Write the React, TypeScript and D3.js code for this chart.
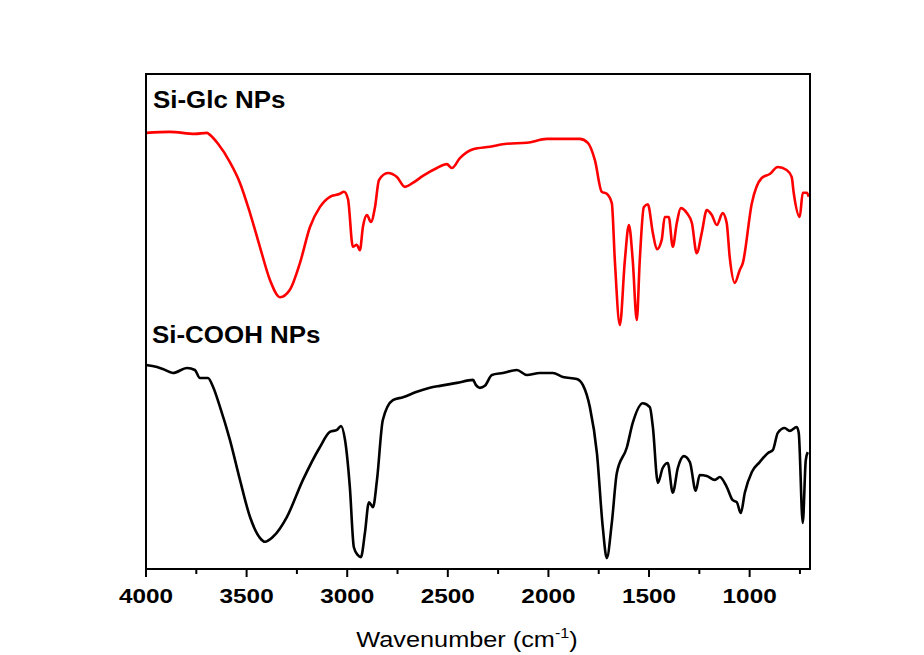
import React from "react";
import * as d3 from "d3";

// Si-Glc NPs (red) : [wavenumber, transmittance (a.u., offset)]
const siGlcWavenumber = [
  4000, 3881, 3757, 3697, 3682, 3642, 3583, 3533, 3483, 3434, 3384, 3334, 3285, 3235, 3185, 3136, 3086, 3036, 3016, 2996,
  2972, 2952, 2937, 2922, 2902, 2882, 2862, 2842, 2798, 2753, 2713, 2674, 2624, 2554, 2505, 2480, 2440, 2375, 2291, 2207,
  2107, 2008, 1908, 1844, 1804, 1769, 1735, 1710, 1685, 1670, 1645, 1620, 1600, 1581, 1561, 1546, 1526, 1506, 1481, 1461,
  1437, 1422, 1402, 1382, 1362, 1342, 1312, 1287, 1263, 1238, 1213, 1188, 1163, 1134, 1114, 1099, 1074, 1049, 1034, 989,
  940, 900, 860, 816, 791, 781, 751, 736, 716, 706,
];
const siGlcValue = [
  88.1, 88.3, 87.9, 88.1, 87.7, 85.9, 82.2, 78.0, 71.9, 65.1, 58.4, 54.9, 56.4, 61.8, 69.1, 73.1, 75.2, 75.8, 76.2, 74.7,
  65.1, 65.5, 64.4, 69.1, 71.5, 70.1, 73.1, 78.6, 80.0, 79.2, 77.2, 78.0, 79.4, 81.0, 81.8, 81.0, 83.0, 84.8, 85.3, 85.9,
  86.1, 86.9, 86.9, 86.9, 86.1, 82.6, 76.2, 75.8, 73.9, 62.4, 49.3, 62.4, 69.5, 62.4, 50.3, 62.4, 73.1, 73.7, 67.9, 64.6,
  66.5, 71.1, 71.1, 65.1, 69.9, 72.9, 71.9, 69.9, 63.8, 67.9, 72.5, 71.5, 69.5, 71.9, 69.9, 63.0, 57.8, 60.4, 61.8, 73.9,
  79.0, 79.8, 81.2, 80.6, 79.2, 76.0, 71.1, 76.0, 76.0, 75.2,
];

// Si-COOH NPs (black)
const siCoohWavenumber = [
  4000, 3945, 3916, 3866, 3796, 3757, 3732, 3692, 3667, 3632, 3583, 3533, 3483, 3434, 3409, 3369, 3300, 3220, 3136, 3086,
  3051, 3031, 3011, 2987, 2967, 2947, 2932, 2912, 2892, 2872, 2852, 2823, 2773, 2723, 2654, 2589, 2539, 2455, 2375, 2361,
  2341, 2316, 2281, 2226, 2157, 2107, 2043, 1978, 1928, 1859, 1829, 1794, 1759, 1730, 1710, 1685, 1660, 1610, 1581, 1531,
  1496, 1481, 1456, 1432, 1407, 1382, 1357, 1327, 1297, 1268, 1248, 1213, 1173, 1148, 1114, 1084, 1064, 1044, 1024, 989,
  950, 910, 885, 860, 826, 801, 766, 756, 736, 721, 711,
];
const siCoohValue = [
  41.2, 40.8, 40.4, 39.6, 40.6, 40.2, 38.6, 38.6, 36.8, 32.7, 26.1, 18.0, 10.5, 6.3, 5.5, 6.5, 10.5, 18.0, 24.6, 27.7,
  28.1, 28.9, 26.1, 16.6, 4.4, 2.8, 2.4, 7.3, 13.5, 12.5, 18.0, 30.1, 34.1, 34.7, 35.8, 36.6, 37.0, 37.6, 38.2, 37.2,
  36.6, 37.0, 39.2, 39.6, 40.2, 39.2, 39.6, 39.6, 38.8, 38.4, 37.2, 32.7, 23.4, 8.5, 2.2, 9.3, 19.4, 24.6, 29.5, 33.5,
  32.7, 28.7, 17.4, 20.4, 21.4, 15.4, 20.4, 22.8, 21.6, 15.8, 19.0, 18.8, 18.0, 18.6, 16.6, 13.9, 13.5, 11.3, 15.4, 19.6,
  21.6, 23.4, 24.0, 27.5, 28.5, 27.9, 28.7, 27.5, 9.3, 22.0, 23.6,
];

const majorTicks = [4000, 3500, 3000, 2500, 2000, 1500, 1000];
const minorTicks = [3750, 3250, 2750, 2250, 1750, 1250, 750];
const seriesLabels = ["Si-Glc NPs", "Si-COOH NPs"];
const xTitle = "Wavenumber (cm";
const xTitleSup = "-1";

const W = 924;
const H = 655;
const M = { left: 146, right: 810, top: 74, bottom: 569 };
const FONT = "'Liberation Sans', Arial, Helvetica, sans-serif";

export default function App() {
  const x = d3.scaleLinear().domain([4000, 700]).range([M.left, M.right]);
  const y = d3.scaleLinear().domain([0, 100]).range([M.bottom, M.top]);
  const line = d3
    .line<[number, number]>()
    .x((d) => x(d[0]))
    .y((d) => y(d[1]))
    .curve(d3.curveMonotoneX);

  const red = siGlcWavenumber.map((w, i) => [w, siGlcValue[i]] as [number, number]);
  const black = siCoohWavenumber.map((w, i) => [w, siCoohValue[i]] as [number, number]);

  return (
    <svg
      width={W}
      height={H}
      style={{ position: "absolute", left: 0, top: 0, background: "#fff" }}
      fontFamily={FONT}
    >
      <rect x={0} y={0} width={W} height={H} fill="#fff" />
      <path d={line(red) || ""} fill="none" stroke="#ff0000" strokeWidth={2.6} strokeLinejoin="round" />
      <path d={line(black) || ""} fill="none" stroke="#000" strokeWidth={2.6} strokeLinejoin="round" />

      {/* frame */}
      <rect
        x={M.left}
        y={M.top}
        width={M.right - M.left}
        height={M.bottom - M.top}
        fill="none"
        stroke="#000"
        strokeWidth={2}
      />

      {/* ticks */}
      {majorTicks.map((t) => (
        <line key={"M" + t} x1={x(t)} x2={x(t)} y1={M.bottom} y2={M.bottom + 8} stroke="#000" strokeWidth={2} />
      ))}
      {minorTicks.map((t) => (
        <line key={"m" + t} x1={x(t)} x2={x(t)} y1={M.bottom} y2={M.bottom + 5} stroke="#000" strokeWidth={2} />
      ))}
      {majorTicks.map((t) => (
        <text
          key={"L" + t}
          transform={`translate(${x(t)},603) scale(1.16,1)`}
          textAnchor="middle"
          fontSize={21}
          fontWeight="bold"
          fill="#000"
        >
          {t}
        </text>
      ))}

      <text transform="translate(153,108) scale(1.08,1)" fontSize={24} fontWeight="bold" fill="#000">
        {seriesLabels[0]}
      </text>
      <text transform="translate(152,343) scale(1.08,1)" fontSize={24} fontWeight="bold" fill="#000">
        {seriesLabels[1]}
      </text>

      <text transform="translate(467,647) scale(1.15,1)" textAnchor="middle" fontSize={22} fill="#000">
        {xTitle}
        <tspan fontSize={14} dy={-9}>
          {xTitleSup}
        </tspan>
        <tspan dy={9}>)</tspan>
      </text>
    </svg>
  );
}
